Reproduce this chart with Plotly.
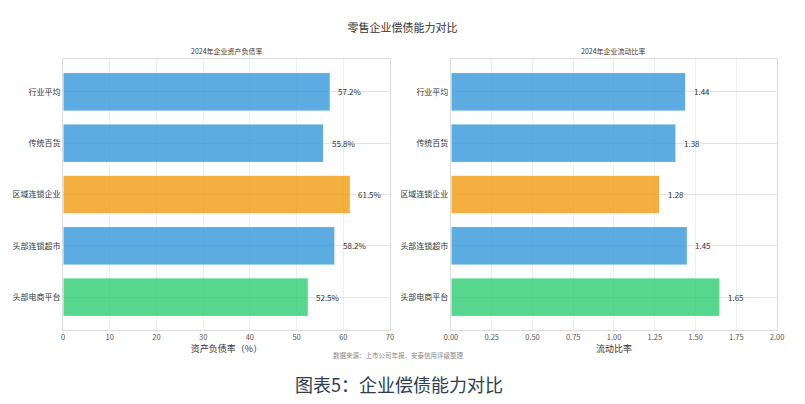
import plotly.graph_objects as go
from plotly.subplots import make_subplots

# 数据（自下而上）
categories = ["头部电商平台", "头部连锁超市", "区域连锁企业", "传统百货", "行业平均"]
debt_ratio = [52.5, 58.2, 61.5, 55.8, 57.2]
current_ratio = [1.65, 1.45, 1.28, 1.38, 1.44]
bar_colors = ["#2ecc71", "#3498db", "#f39c12", "#3498db", "#3498db"]

debt_ticks = [0, 10, 20, 30, 40, 50, 60, 70]
ratio_ticks = [0, 0.25, 0.5, 0.75, 1.0, 1.25, 1.5, 1.75, 2.0]

FONT = "Noto Sans CJK SC, Microsoft YaHei, sans-serif"

fig = make_subplots(rows=1, cols=2,
                    subplot_titles=("2024年企业资产负债率", "2024年企业流动比率"))

fig.add_trace(go.Bar(
    y=categories, x=debt_ratio, orientation="h",
    marker=dict(color=bar_colors, opacity=0.8, line=dict(color="white", width=1)),
), row=1, col=1)

fig.add_trace(go.Bar(
    y=categories, x=current_ratio, orientation="h",
    marker=dict(color=bar_colors, opacity=0.8, line=dict(color="white", width=1)),
), row=1, col=2)

# 数值标签
for cat, v in zip(categories, debt_ratio):
    fig.add_annotation(x=v, y=cat, xref="x", yref="y", text=f"{v:.1f}%",
                       showarrow=False, xanchor="left", xshift=6,
                       font=dict(size=8, color="#333"))
for cat, v in zip(categories, current_ratio):
    fig.add_annotation(x=v, y=cat, xref="x2", yref="y2", text=f"{v:.2f}",
                       showarrow=False, xanchor="left", xshift=6,
                       font=dict(size=8, color="#333"))

axis_style = dict(showline=True, linecolor="#ddd", mirror=True, showgrid=True,
                  gridcolor="#eee", zeroline=False, ticks="", automargin=False,
                  tickfont=dict(size=7.5, color="#555"))

fig.update_xaxes(**axis_style)
fig.update_yaxes(**axis_style)
fig.update_yaxes(range=[-0.64, 4.64], gridcolor="#e3e3e3",
                 tickfont=dict(size=8, color="#333"))

fig.update_xaxes(domain=[0, 0.458], range=[0, 70], tickvals=debt_ticks,
                 title=dict(text="资产负债率（%）", font=dict(size=9, color="#333"), standoff=3),
                 row=1, col=1)
fig.update_xaxes(domain=[0.5434, 1], range=[0, 2.0], tickvals=ratio_ticks, tickformat=".2f",
                 title=dict(text="流动比率", font=dict(size=9, color="#333"), standoff=3),
                 row=1, col=2)

for ann in fig.layout.annotations[:2]:
    ann.font = dict(size=7, color="#333", family=FONT)
    ann.yshift = 1
fig.layout.annotations[0].x = 0.229
fig.layout.annotations[1].x = 0.7717

fig.add_annotation(text="数据来源：上市公司年报，安泰信用评级整理", xref="paper", yref="paper",
                   x=0.47, y=-0.092, yanchor="middle", showarrow=False,
                   font=dict(size=6.5, color="#888"))
fig.add_annotation(text="图表5：企业偿债能力对比", xref="paper", yref="paper",
                   x=0.47, y=-0.199, yanchor="middle", showarrow=False,
                   font=dict(size=18, color="#2c3e50"))

fig.update_layout(
    width=805, height=404,
    title=dict(text="零售企业偿债能力对比", x=0.5, y=0.931, xanchor="center", yanchor="middle",
               font=dict(size=11, color="#333")),
    font=dict(family=FONT),
    showlegend=False, bargap=0.25,
    plot_bgcolor="white", paper_bgcolor="white",
    margin=dict(l=63, r=28, t=59, b=74),
)

fig.write_html("out.html", config={"displayModeBar": False},
               post_script="document.body.style.margin='0';")
